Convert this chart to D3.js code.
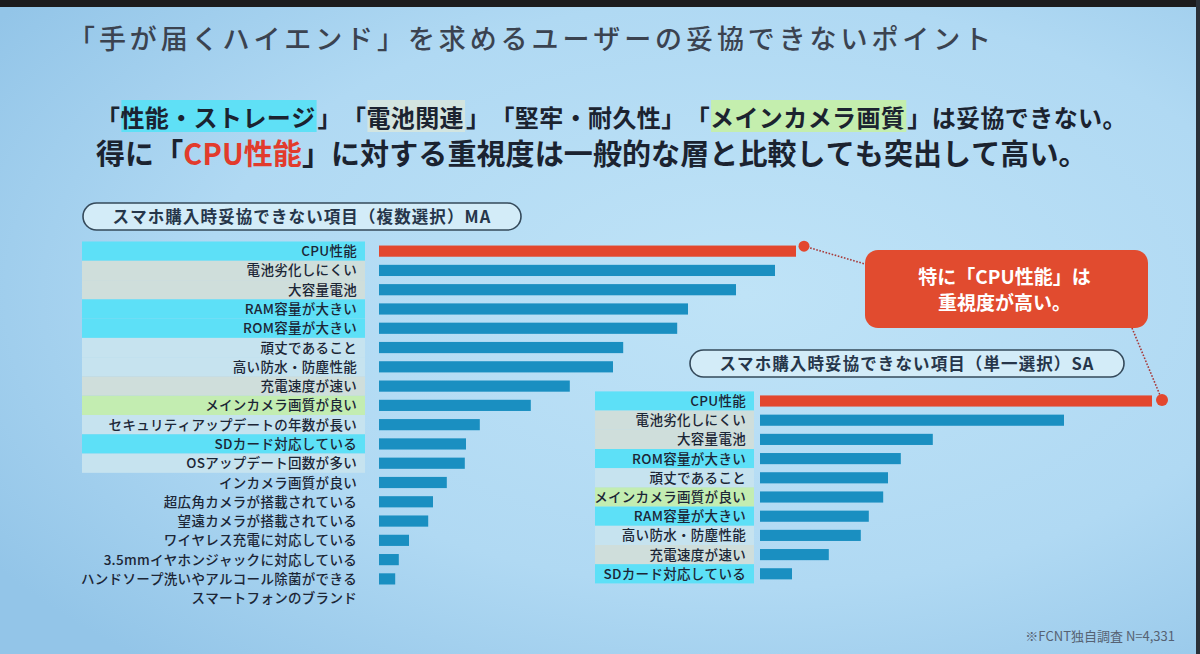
<!DOCTYPE html>
<html>
<head>
<meta charset="utf-8">
<script src="https://cdn.jsdelivr.net/npm/d3@7"></script>
<style>
  html, body { margin: 0; padding: 0; background: #1a1a1a; }
  svg { display: block; font-family: "Noto Sans CJK JP", "Noto Sans", sans-serif; }
  svg text { text-spacing-trim: space-all; font-kerning: none; }
</style>
</head>
<body>
<svg width="1200" height="654"></svg>
<script>
// multiple choice (MA)
const maLabels = [
  "CPU性能", "電池劣化しにくい", "大容量電池", "RAM容量が大きい", "ROM容量が大きい",
  "頑丈であること", "高い防水・防塵性能", "充電速度が速い", "メインカメラ画質が良い",
  "セキュリティアップデートの年数が長い", "SDカード対応している", "OSアップデート回数が多い",
  "インカメラ画質が良い", "超広角カメラが搭載されている", "望遠カメラが搭載されている",
  "ワイヤレス充電に対応している", "3.5mmイヤホンジャックに対応している",
  "ハンドソープ洗いやアルコール除菌ができる", "スマートフォンのブランド"
];
const maValues = [69.5, 66, 59.5, 51.5, 49.7, 40.7, 39, 31.8, 25.3, 16.8, 14.5, 14.3, 11.3, 9, 8.2, 5, 3.3, 2.7, 0];
const maGroups = ["perf", "battery", "battery", "perf", "perf", "durable", "durable", "battery", "camera",
  "durable", "perf", "durable", "none", "none", "none", "none", "none", "none", "none"];

// single choice (SA)
const saLabels = [
  "CPU性能", "電池劣化しにくい", "大容量電池", "ROM容量が大きい", "頑丈であること",
  "メインカメラ画質が良い", "RAM容量が大きい", "高い防水・防塵性能", "充電速度が速い", "SDカード対応している"
];
const saValues = [24.5, 19, 10.8, 8.8, 8, 7.7, 6.8, 6.3, 4.3, 2.0];
const saGroups = ["perf", "battery", "battery", "perf", "durable", "camera", "perf", "durable", "battery", "perf"];

const groupFill = {
  perf: "#5de0f7",
  battery: "#cfdedb",
  durable: "#c6e3ef",
  camera: "#c3edb1",
  none: "none"
};

const svg = d3.select("svg");
const width = +svg.attr("width");
const height = +svg.attr("height");

// slide background
const defs = svg.append("defs");
const bg = defs.append("radialGradient").attr("id", "bg")
  .attr("cx", "62%").attr("cy", "45%").attr("r", "75%");
bg.append("stop").attr("offset", "0%").attr("stop-color", "#bfe3f7");
bg.append("stop").attr("offset", "60%").attr("stop-color", "#b0d9f3");
bg.append("stop").attr("offset", "100%").attr("stop-color", "#93c5e8");
svg.append("rect").attr("width", width).attr("height", height).attr("fill", "url(#bg)");
svg.append("rect").attr("width", width).attr("height", 7).attr("fill", "#1c1c1e");
svg.append("rect").attr("x", width - 4).attr("width", 4).attr("height", height).attr("fill", "#2a3038");

// title
svg.append("text")
  .attr("x", 68).attr("y", 49)
  .attr("font-size", 27).attr("font-weight", 500)
  .attr("letter-spacing", 3.9)
  .attr("fill", "#3b4350")
  .text("「手が届くハイエンド」を求めるユーザーの妥協できないポイント");

// headline line 1 with highlighted words
const line1 = [
  { t: "「" },
  { t: "性能・ストレージ", hl: "#5fe0f6" },
  { t: "」" }, { t: "「" },
  { t: "電池関連", hl: "#d3e5e0" },
  { t: "」" }, { t: "「堅牢・耐久性」" }, { t: "「" },
  { t: "メインカメラ画質", hl: "#c4eeae" },
  { t: "」" }, { t: "は妥協できない。" }
];
const l1 = svg.append("g");
const l1bg = l1.append("g");
let cx = 96;
line1.forEach(s => {
  const t = l1.append("text")
    .attr("x", cx).attr("y", 127)
    .attr("font-size", 24).attr("font-weight", 700)
    .attr("letter-spacing", 0.4)
    .attr("fill", "#1b2330")
    .text(s.t);
  const w = Math.max(t.node().getComputedTextLength(), s.t.length * 24);
  if (s.hl) {
    l1bg.append("rect").attr("x", cx + 1).attr("y", 100).attr("width", w).attr("height", 32).attr("fill", s.hl);
  }
  cx += s.hl ? t.node().getComputedTextLength() + 2 : w;
});

// headline line 2
const line2 = [
  { t: "得に" }, { t: "「" },
  { t: "CPU性能", c: "#e23b2c" },
  { t: "」" }, { t: "に対する重視度は一般的な層と比較しても突出して高い。" }
];
cx = 96;
line2.forEach(s => {
  const t = svg.append("text")
    .attr("x", cx).attr("y", 165)
    .attr("font-size", 29).attr("font-weight", 700)
    .attr("letter-spacing", 0.1)
    .attr("fill", s.c || "#1b2330")
    .text(s.t);
  const w = t.node().getComputedTextLength();
  cx += (s.t === "「" || s.t === "」") ? Math.max(w, 29) : w;
});

// pill headers
const pill = (x0, x1, y0, y1, label) => {
  svg.append("rect")
    .attr("x", x0).attr("y", y0).attr("width", x1 - x0).attr("height", y1 - y0)
    .attr("rx", (y1 - y0) / 2)
    .attr("fill", "#d3ecf8").attr("stroke", "#34495a").attr("stroke-width", 1.6);
  svg.append("text")
    .attr("x", (x0 + x1) / 2).attr("y", (y0 + y1) / 2 + 6)
    .attr("text-anchor", "middle")
    .attr("font-size", 16.5).attr("font-weight", 700)
    .attr("letter-spacing", 1.1)
    .attr("fill", "#26364a")
    .text(label);
};
pill(83, 521, 203, 230, "スマホ購入時妥協できない項目（複数選択）MA");
pill(690, 1124, 350, 377, "スマホ購入時妥協できない項目（単一選択）SA");

// bar chart builder
const barChart = (labels, values, groups, opt) => {
  const y = d3.scaleBand().domain(labels).range([opt.top, opt.top + opt.step * labels.length]);
  const x = d3.scaleLinear().domain(opt.domain).range([opt.x0, opt.x1]);
  const g = svg.append("g");

  g.selectAll("rect.band")
    .data(labels)
    .enter()
    .append("rect")
    .attr("class", "band")
    .attr("x", opt.bandX0)
    .attr("y", d => y(d))
    .attr("width", opt.bandX1 - opt.bandX0)
    .attr("height", y.bandwidth())
    .attr("fill", (d, i) => groupFill[groups[i]]);

  g.selectAll("text.lbl")
    .data(labels)
    .enter()
    .append("text")
    .attr("class", "lbl")
    .attr("x", opt.labelX)
    .attr("y", d => y(d) + y.bandwidth() / 2 + 5)
    .attr("text-anchor", "end")
    .attr("font-size", 13.5).attr("font-weight", 500)
    .attr("letter-spacing", 0.3)
    .attr("fill", "#1c2636")
    .text(d => d);

  const bh = y.bandwidth() * 0.58;
  g.selectAll("rect.bar")
    .data(values)
    .enter()
    .append("rect")
    .attr("class", "bar")
    .attr("x", x(0))
    .attr("y", (d, i) => y(labels[i]) + (y.bandwidth() - bh) / 2)
    .attr("width", d => x(d) - x(0))
    .attr("height", bh)
    .attr("fill", (d, i) => i === 0 ? "#e3472e" : "#1a8fc1");

  return { x, y };
};

const ma = barChart(maLabels, maValues, maGroups, {
  top: 241.5, step: 19.28, domain: [0, 70], x0: 379, x1: 799,
  bandX0: 82, bandX1: 365, labelX: 357
});
const sa = barChart(saLabels, saValues, saGroups, {
  top: 391.4, step: 19.2, domain: [0, 25], x0: 760, x1: 1160,
  bandX0: 595, bandX1: 754, labelX: 746
});

// callout
const box = { x: 865, y: 250, w: 283, h: 78 };
const dot1 = [ma.x(maValues[0]) + 8, ma.y(maLabels[0]) + ma.y.bandwidth() / 2 - 5];
const dot2 = [sa.x(saValues[0]) + 10, sa.y(saLabels[0]) + sa.y.bandwidth() / 2 - 1];

svg.append("line")
  .attr("x1", dot1[0]).attr("y1", dot1[1]).attr("x2", box.x).attr("y2", box.y + 14)
  .attr("stroke", "#a83a3a").attr("stroke-width", 1.6).attr("stroke-dasharray", "1.6,1.6");
svg.append("line")
  .attr("x1", box.x + box.w - 16).attr("y1", box.y + box.h).attr("x2", dot2[0]).attr("y2", dot2[1])
  .attr("stroke", "#a83a3a").attr("stroke-width", 1.6).attr("stroke-dasharray", "1.6,1.6");
svg.append("circle").attr("cx", dot1[0]).attr("cy", dot1[1]).attr("r", 5.5).attr("fill", "#e3472e");
svg.append("circle").attr("cx", dot2[0]).attr("cy", dot2[1]).attr("r", 6).attr("fill", "#e3472e");

svg.append("rect")
  .attr("x", box.x).attr("y", box.y).attr("width", box.w).attr("height", box.h)
  .attr("rx", 13).attr("fill", "#e14b2f");
svg.append("text")
  .attr("x", box.x + box.w / 2 - 2).attr("y", box.y + 34)
  .attr("text-anchor", "middle")
  .attr("font-size", 19).attr("font-weight", 700).attr("fill", "#ffffff")
  .text("特に「CPU性能」は");
svg.append("text")
  .attr("x", box.x + box.w / 2 - 2).attr("y", box.y + 60)
  .attr("text-anchor", "middle")
  .attr("font-size", 19).attr("font-weight", 700).attr("fill", "#ffffff")
  .text("重視度が高い。");

// footnote
svg.append("text")
  .attr("x", 1175).attr("y", 641)
  .attr("text-anchor", "end")
  .attr("font-size", 13).attr("fill", "#566273")
  .text("※FCNT独自調査 N=4,331");
</script>
</body>
</html>
